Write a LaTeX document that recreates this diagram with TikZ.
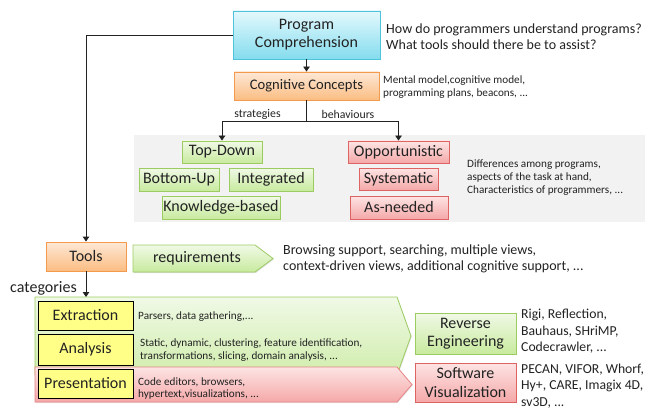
\documentclass[tikz,border=0pt]{standalone}
\usepackage{fontspec}
\setmainfont{Carlito}
\usetikzlibrary{arrows.meta,shadows}
\definecolor{cyanT}{HTML}{E4F9FD}
\definecolor{cyanB}{HTML}{84DCEE}
\definecolor{cyanL}{HTML}{4FC3DA}
\definecolor{orT}{HTML}{FDE8D6}
\definecolor{orB}{HTML}{FBBD82}
\definecolor{orL}{HTML}{F39A4C}
\definecolor{grT}{HTML}{F0F9E6}
\definecolor{grB}{HTML}{C8EA9E}
\definecolor{grL}{HTML}{9CCB62}
\definecolor{rdT}{HTML}{FDE4E4}
\definecolor{rdB}{HTML}{F5A8A8}
\definecolor{rdL}{HTML}{DE6464}
\definecolor{panel}{HTML}{F2F2F2}
\definecolor{ylw}{HTML}{FFFF88}
\definecolor{ink}{HTML}{222222}
\newcommand\fmain{\fontsize{16}{18.5}\selectfont}
\newcommand\fhead{\fontsize{16}{18}\selectfont}
\newcommand\fconc{\fontsize{14.6}{17}\selectfont}
\newcommand\fside{\fontsize{14}{16.5}\selectfont}
\newcommand\flist{\fontsize{13.7}{16.5}\selectfont}
\newcommand\fnote{\fontsize{11.2}{12.8}\selectfont}
\newcommand\flabel{\fontsize{11.8}{13}\selectfont}
\begin{document}
\begin{tikzpicture}[x=1pt,y=-1pt,
  every node/.style={inner sep=0pt, text=ink},
  boxbase/.style={draw, line width=0.8pt, align=center, font=\fmain,
    drop shadow={opacity=0.25, shadow xshift=0.8pt, shadow yshift=-1pt}},
  cyanbox/.style={boxbase, draw=cyanL, top color=cyanT, bottom color=cyanB, font=\fhead},
  orbox/.style={boxbase, draw=orL, top color=orT, bottom color=orB},
  grbox/.style={boxbase, draw=grL, top color=grT, bottom color=grB},
  rdbox/.style={boxbase, draw=rdL, top color=rdT, bottom color=rdB},
  ylbox/.style={draw=black, line width=0.8pt, fill=ylw, font=\fmain,
    minimum width=95, align=center},
  sidetext/.style={anchor=west, align=left, font=\fside},
  listtext/.style={anchor=west, align=left, font=\flist},
  notetext/.style={anchor=west, align=left, font=\fnote},
  link/.style={draw=ink, line width=0.8pt},
  arrowlink/.style={link, -{Triangle[width=6.5pt,length=5pt]}}
]
\useasboundingbox (0,0) rectangle (645,409);

% grey band behind the strategies and behaviours
\fill[panel] (134,135) rectangle (645,222);

% top of the hierarchy
\node[cyanbox, minimum width=147, minimum height=48] (pc) at (306.5,35) {Program\\Comprehension};
\node[sidetext] (pcq) at (386,36.5) {How do programmers understand programs?\\What tools should there be to assist?};

\node[orbox, font=\fconc, minimum width=145, minimum height=28] (cc) at (306.5,86) {Cognitive Concepts};
\node[notetext] (ccn) at (383,87) {Mental model,cognitive model,\\programming plans, beacons, ...};

% strategies
\node[grbox, minimum width=80, minimum height=22] (td) at (222,152) {Top-Down};
\node[grbox, minimum width=80, minimum height=23] (bu) at (179,179.5) {Bottom-Up};
\node[grbox, minimum width=84, minimum height=23] (ig) at (271,179.5) {Integrated};
\node[grbox, minimum width=118, minimum height=23] (kb) at (221,207.5) {Knowledge-based};

% behaviours
\node[rdbox, minimum width=101, minimum height=22] (op) at (398.5,152) {Opportunistic};
\node[rdbox, minimum width=79, minimum height=22] (sy) at (398.5,179) {Systematic};
\node[rdbox, minimum width=98, minimum height=23] (an) at (399,207.5) {As-needed};
\node[notetext] (diff) at (467,177.5) {Differences among programs,\\aspects of the task at hand,\\Characteristics of programmers, ...};

\node[font=\flabel] (lstr) at (257.5,114) {strategies};
\node[font=\flabel] (lbeh) at (348,114) {behaviours};

% tools
\node[orbox, minimum width=80, minimum height=29] (tools) at (86,256.5) {Tools};
\path[draw=grL, line width=0.8pt, top color=grT, bottom color=grB,
  drop shadow={opacity=0.25, shadow xshift=0.8pt, shadow yshift=-1pt}]
  (133,245) -- (255,245) -- (273,258.5) -- (255,272) -- (133,272) -- cycle;
\node[font=\fmain] (req) at (197,258.5) {requirements};
\node[sidetext] (reqt) at (283,259) {Browsing support, searching, multiple views,\\context-driven views, additional cognitive support, ...};

\node[font=\fmain] (cat) at (43.5,288) {categories};

% category bands
\path[draw=grL, line width=0.8pt, top color=grT, bottom color=grB!80!grT,
  drop shadow={opacity=0.2, shadow xshift=0.8pt, shadow yshift=-1pt}]
  (35,297) -- (397,297) -- (411,336) -- (397,375) -- (35,375) -- cycle;
\path[draw=rdL!80, line width=0.8pt, top color=rdT, bottom color=rdB,
  drop shadow={opacity=0.2, shadow xshift=0.8pt, shadow yshift=-1pt}]
  (35,367) -- (397,367) -- (412,384.5) -- (397,402) -- (35,402) -- cycle;
\coordinate (cattop) at (86,297);

\node[ylbox, minimum height=29] (ex) at (85.5,315.5) {Extraction};
\node[ylbox, minimum height=31] (ana) at (85.5,349.5) {Analysis};
\node[ylbox, minimum height=29] (pr) at (85.5,383.5) {Presentation};

\node[notetext] (ext) at (138,317) {Parsers, data gathering,...};
\node[notetext] (anat) at (140,350) {Static, dynamic, clustering, feature identification,\\transformations, slicing, domain analysis, ...};
\node[notetext] (prt) at (138,388.5) {Code editors, browsers,\\hypertext,visualizations, ...};

% resulting tool families
\node[grbox, minimum width=101, minimum height=41] (re) at (465.5,333.5) {Reverse\\Engineering};
\node[rdbox, minimum width=101, minimum height=39] (sv) at (465.5,382.5) {Software\\Visualization};
\node[listtext] (ret) at (521,331.5) {Rigi, Reflection,\\Bauhaus, SHriMP,\\Codecrawler, ...};
\node[listtext] (svt) at (521,386) {PECAN, VIFOR, Whorf,\\Hy+, CARE, Imagix 4D,\\sv3D, ...};

% connectors
\draw[arrowlink] (pc.south) -- (cc.north);
\draw[arrowlink] (pc.west) -| (tools.north);
\draw[link] (cc.south) -- ++(0,21) coordinate (split);
\draw[arrowlink] (split) -| (td.north);
\draw[arrowlink] (split) -| (op.north);
\draw[arrowlink] (tools.south) -- (cattop);
\end{tikzpicture}
\end{document}
